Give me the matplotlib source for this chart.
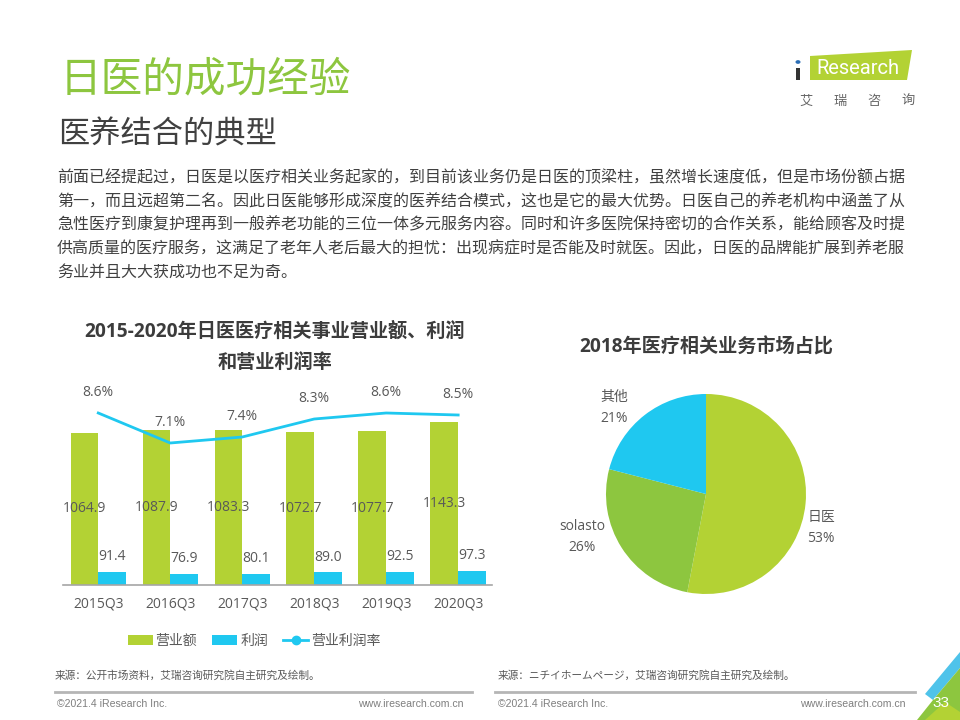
import matplotlib
matplotlib.use("Agg")
import matplotlib.pyplot as plt
from matplotlib.patches import Patch, Polygon, Circle, Rectangle
from matplotlib.lines import Line2D
import numpy as np

# ---------------- data ----------------
categories = ["2015Q3", "2016Q3", "2017Q3", "2018Q3", "2019Q3", "2020Q3"]
revenue = [1064.9, 1087.9, 1083.3, 1072.7, 1077.7, 1143.3]
profit = [91.4, 76.9, 80.1, 89.0, 92.5, 97.3]
margin = [8.6, 7.1, 7.4, 8.3, 8.6, 8.5]
legend_labels = ["营业额", "利润", "营业利润率"]

pie_labels = ["日医", "solasto", "其他"]
pie_values = [53, 26, 21]

title_main = "日医的成功经验"
title_sub = "医养结合的典型"
paragraph = [
    "前面已经提起过，日医是以医疗相关业务起家的，到目前该业务仍是日医的顶梁柱，虽然增长速度低，但是市场份额占据",
    "第一，而且远超第二名。因此日医能够形成深度的医养结合模式，这也是它的最大优势。日医自己的养老机构中涵盖了从",
    "急性医疗到康复护理再到一般养老功能的三位一体多元服务内容。同时和许多医院保持密切的合作关系，能给顾客及时提",
    "供高质量的医疗服务，这满足了老年人老后最大的担忧：出现病症时是否能及时就医。因此，日医的品牌能扩展到养老服",
    "务业并且大大获成功也不足为奇。",
]
bar_title = ["2015-2020年日医医疗相关事业营业额、利润", "和营业利润率"]
pie_title = "2018年医疗相关业务市场占比"
source_left = "来源：公开市场资料，艾瑞咨询研究院自主研究及绘制。"
source_right = "来源：ニチイホームページ，艾瑞咨询研究院自主研究及绘制。"

# ---------------- style ----------------
GREEN = "#b3d234"
GREEN2 = "#8dc63f"
BLUE = "#1fc8f0"
GRAY = "#595959"
DARK = "#3c3c3c"
FONTS = ["Open Sans", "Noto Sans CJK SC", "DejaVu Sans"]
CJK = ["Noto Sans CJK SC", "DejaVu Sans"]
plt.rcParams["font.family"] = FONTS

W, H = 960, 720
fig = plt.figure(figsize=(9.6, 7.2), dpi=100)
fig.patch.set_facecolor("white")


def px(x, y):
    return (x / W, 1 - y / H)


# ---------------- header ----------------
fig.text(*px(60, 80), title_main, family=CJK, fontsize=30, color=GREEN2, va="center", ha="left")
fig.text(*px(58, 134), title_sub, family=CJK, fontsize=22.5, color="#404040", va="center", ha="left")
for i, line in enumerate(paragraph):
    fig.text(*px(57, 178 + i * 23.5), line, family=CJK, fontsize=11.5, color="#404040",
             va="center", ha="left")

# logo
fig.patches.append(Polygon([px(810, 56), px(912, 50), px(907, 80), px(810, 80)], closed=True,
                           transform=fig.transFigure, facecolor=GREEN, edgecolor="none"))
fig.text(*px(858, 69), "Research", family=["Roboto", "DejaVu Sans"], fontsize=14.5, color="white",
         va="center", ha="center")
fig.patches.append(Circle(px(798, 62), 2.5 / W, transform=fig.transFigure, facecolor="#2a6db5",
                          edgecolor="none"))
fig.patches.append(Rectangle(px(796, 80), 3.5 / W, 12 / H, transform=fig.transFigure,
                             facecolor="#333333", edgecolor="none"))
for i, ch in enumerate("艾瑞咨询"):
    fig.text(*px(806 + i * 34, 101), ch, family=CJK, fontsize=9.5, color="#666666",
             va="center", ha="center")

# ---------------- bar chart ----------------
ax = fig.add_axes([63 / W, 135 / H, 429 / W, 200 / H])
x = np.arange(len(categories))
bw = 0.385
ax.bar(x - bw / 2, revenue, width=bw, color=GREEN, zorder=2)
ax.bar(x + bw / 2, profit, width=bw, color=BLUE, zorder=2)
ax.set_ylim(0, 1400)
ax.set_xlim(-0.49, len(categories) - 0.53)
for s in ["top", "left", "right"]:
    ax.spines[s].set_visible(False)
ax.spines["bottom"].set_color("#a6a6a6")
ax.spines["bottom"].set_linewidth(1.2)
ax.set_yticks([])
ax.set_xticks(x)
ax.set_xticklabels(categories, fontsize=10, color=GRAY)
ax.tick_params(axis="x", length=0, pad=8)
ax.patch.set_alpha(0)

for xi, v in zip(x, revenue):
    ax.text(xi - bw / 2, v / 2, f"{v:.1f}", ha="center", va="center", fontsize=10, color=GRAY, zorder=3)
for xi, v in zip(x, profit):
    ax.annotate(f"{v:.1f}", (xi + bw / 2, v), xytext=(0, 11), textcoords="offset points",
                ha="center", va="center", fontsize=10, color=GRAY)

ax2 = ax.twinx()
ax2.set_ylim(0, 10)
ax2.plot(x, margin, color=BLUE, lw=2, zorder=4)
for s in ax2.spines.values():
    s.set_visible(False)
ax2.set_yticks([])
for xi, v in zip(x, margin):
    ax2.annotate(f"{v:.1f}%", (xi, v), xytext=(0, 15), textcoords="offset points",
                 ha="center", va="center", fontsize=10, color=GRAY)

fig.text(*px(275, 332), bar_title[0], fontsize=13.8, weight="bold", color=DARK, ha="center", va="center")
fig.text(*px(275, 363), bar_title[1], fontsize=13.8, weight="bold", color=DARK, ha="center", va="center")

handles = [Patch(facecolor=GREEN, edgecolor="none"),
           Patch(facecolor=BLUE, edgecolor="none"),
           Line2D([], [], color=BLUE, lw=2, marker="o", markersize=6)]
leg = fig.legend(handles, legend_labels, loc="center", bbox_to_anchor=px(254, 641), ncol=3,
                 frameon=False, fontsize=10, handlelength=1.8, handletextpad=0.2,
                 columnspacing=1.1, borderpad=0, prop={"family": CJK, "size": 10})
for t in leg.get_texts():
    t.set_color(GRAY)

# ---------------- pie chart ----------------
pax = fig.add_axes([(706 - 150) / W, (720 - 494 - 150) / H, 300 / W, 300 / H])
pax.pie(pie_values, colors=[GREEN, GREEN2, BLUE], startangle=90, counterclock=False, radius=1.0,
        wedgeprops={"linewidth": 0})
pax.set_xlim(-1.5, 1.5)
pax.set_ylim(-1.5, 1.5)
pax.set_aspect("equal")
pax.axis("off")
label_pos = [(1.15, -0.34), (-1.24, -0.43), (-0.92, 0.86)]
for (lx, ly), name, v in zip(label_pos, pie_labels, pie_values):
    pax.text(lx, ly, f"{name}\n{v}%", ha="center", va="center", fontsize=10, color=GRAY,
             linespacing=1.55)

fig.text(*px(706, 347), pie_title, fontsize=13.8, weight="bold", color=DARK, ha="center", va="center")

# ---------------- footer ----------------
fig.text(*px(55, 675), source_left, family=CJK, fontsize=7.7, color=GRAY, va="center", ha="left")
fig.text(*px(498, 675), source_right, family=CJK, fontsize=7.7, color=GRAY, va="center", ha="left")
fig.lines.append(Line2D([55 / W, 472 / W], [1 - 692 / H] * 2, transform=fig.transFigure,
                        color="#b5b5b5", lw=2))
fig.lines.append(Line2D([495 / W, 915 / W], [1 - 692 / H] * 2, transform=fig.transFigure,
                        color="#b5b5b5", lw=2))
FOOT = ["Liberation Sans", "DejaVu Sans"]
fig.text(*px(57, 704), "©2021.4 iResearch Inc.", family=FOOT, fontsize=7.6, color="#7f7f7f", va="center")
fig.text(*px(464, 704), "www.iresearch.com.cn", family=FOOT, fontsize=7.6, color="#7f7f7f",
         va="center", ha="right")
fig.text(*px(498, 704), "©2021.4 iResearch Inc.", family=FOOT, fontsize=7.6, color="#7f7f7f", va="center")
fig.text(*px(906, 704), "www.iresearch.com.cn", family=FOOT, fontsize=7.6, color="#7f7f7f",
         va="center", ha="right")

# corner decoration
fig.patches.append(Polygon([px(960, 652), px(925, 694), px(933, 700), px(960, 668)],
                           transform=fig.transFigure, facecolor="#4fc3ea", edgecolor="none"))
fig.patches.append(Polygon([px(960, 668), px(933, 700), px(917, 720), px(960, 720)],
                           transform=fig.transFigure, facecolor=GREEN2, edgecolor="none"))
fig.patches.append(Polygon([px(925, 720), px(945, 702), px(960, 712), px(960, 720)],
                           transform=fig.transFigure, facecolor=GREEN, edgecolor="none"))
fig.text(*px(941, 703), "33", family=FOOT, fontsize=11, color="white", va="center", ha="center")

fig.savefig("out.png", dpi=100, facecolor="white")
